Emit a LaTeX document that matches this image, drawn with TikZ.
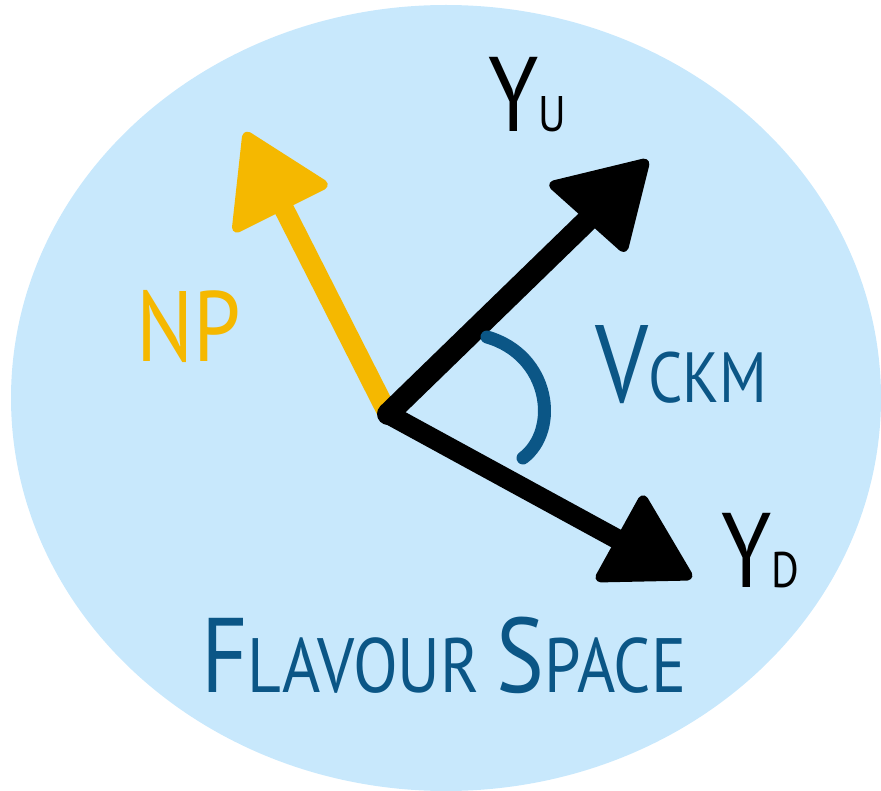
\documentclass[tikz,border=0pt]{standalone}
\usepackage{fontspec}
\usetikzlibrary{calc}
\newfontfamily\handfont{PT Sans}[FakeStretch=0.85]
\definecolor{skyfill}{HTML}{C8E8FC}
\definecolor{npyellow}{HTML}{F5B800}
\definecolor{ckmblue}{HTML}{0B5686}
\newcommand{\capsz}{\fontsize{106}{106}\selectfont}
\newcommand{\lowsz}{\fontsize{50}{50}\selectfont}
\tikzset{
  every picture/.style={line width=0.75pt},
  shaft/.style={line width=20pt, line cap=round},
  head/.style={rounded corners=5pt, line width=5pt, line join=round},
  lbl/.style={anchor=base west, inner sep=0pt, font=\handfont},
}

\begin{document}
\begin{tikzpicture}[x=1pt,y=-1pt]
    \useasboundingbox (0,0) rectangle (881,791);

    % Flavour space blob
    \fill[skyfill] (446,398) ellipse (435 and 393);

    % Common origin and arrow ends
    \coordinate (O) at (388,414);
    \coordinate (npend) at (282,205);
    \coordinate (yuend) at (598,210);
    \coordinate (ydend) at (628,545);

    % NP direction
    \draw[shaft,npyellow] (O) -- (npend);
    \filldraw[head,npyellow] (245,132) -- (328,185) -- (234,232) -- cycle;

    % Yukawa directions
    \draw[shaft,black,line width=22pt] (O) -- (yuend);
    \filldraw[head,black] (549,184) -- (648,160) -- (625,252) -- cycle;
    \draw[shaft,black] (O) -- (ydend);
    \filldraw[head,black] (596,580) -- (692,578) -- (643,495) -- cycle;

    % CKM angle
    \draw[ckmblue,line width=13pt,line cap=round] (487,337) .. controls (550,355) and (560,430) .. (523,458);

    % Labels
    \node[lbl,black] (yu) at (488,132) {\capsz Y\lowsz U};
    \node[lbl,black] (yd) at (721,587) {\capsz Y\lowsz D};
    \node[lbl,ckmblue] (vckm) at (595,403) {\fontsize{110}{110}\selectfont V\fontsize{71}{71}\selectfont CKM};
    \node[lbl,npyellow] (np) at (136,362) {\fontsize{100}{100}\selectfont NP};
    \node[lbl,ckmblue] (fs) at (201,692) {\capsz F\fontsize{77}{77}\selectfont LAVOUR \capsz S\fontsize{77}{77}\selectfont PACE};
\end{tikzpicture}
\end{document}
